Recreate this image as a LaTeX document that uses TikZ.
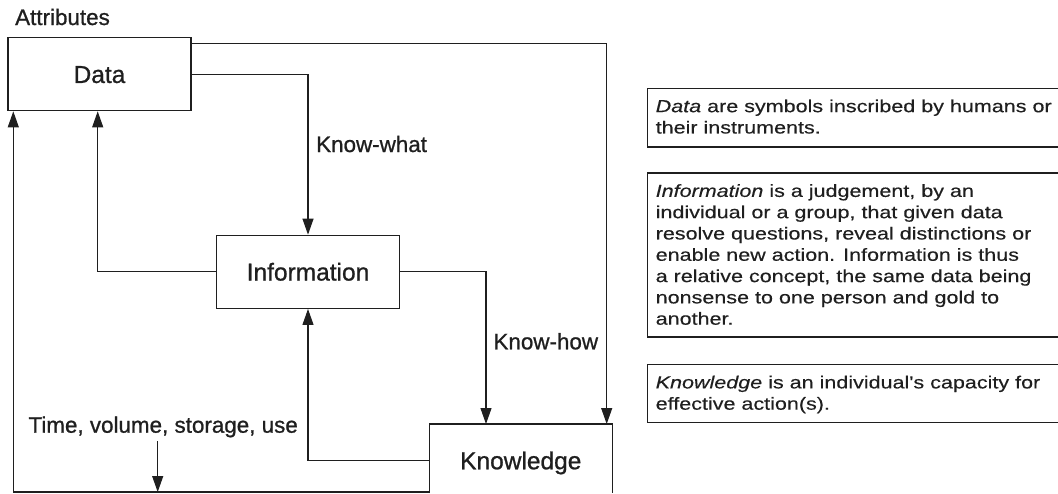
\documentclass[tikz,border=0pt]{standalone}
\usepackage{fontspec}
\setmainfont{Liberation Sans}
\newfontfamily\labelfont{Liberation Sans}[FakeBold=0.9]
\newfontfamily\bodyfont{Liberation Sans}[FakeStretch=1.23, FakeBold=0.35]
\usetikzlibrary{arrows.meta}
\definecolor{ink}{gray}{0.12}
\begin{document}
\begin{tikzpicture}[x=1pt,y=-1pt,
  blockbox/.style={draw=ink, line width=1.3pt, minimum width=183pt, minimum height=73pt,
    inner sep=0pt, text=ink, font=\labelfont\fontsize{24.5}{28}\selectfont, text height=17.5pt, text depth=0pt},
  labeltext/.style={font=\labelfont\fontsize{22.4}{26}\selectfont, text=ink, inner sep=0pt, anchor=base west},
  conn/.style={draw=ink, line width=1.1pt, -{Triangle[length=16pt,width=11pt]}},
  framed/.style={draw=ink, line width=1.2pt},
  desc/.style={font=\bodyfont\fontsize{17.5}{21.3}\selectfont, align=left, inner sep=0pt, text=ink, anchor=north west}
]
\useasboundingbox (0,0) rectangle (1058,493);

% main blocks
\node[blockbox] (data) at (99.5,74.2) {Data};
\node[blockbox] (info) at (308,271.8) {Information};
\node[blockbox, draw=none, outer sep=0pt] (know) at (520.8,460.5) {Knowledge};
\draw[framed, line width=1.3pt] ([yshift=4pt]know.south west) -- (know.north west) -- (know.north east) -- ([yshift=4pt]know.south east);

% labels
\node[labeltext] (attr) at (15,25) {Attributes};
\node[labeltext] (kwhat) at (316,152) {Know-what};
\node[labeltext] (khow) at (493.3,349.3) {Know-how};
\node[labeltext] (tvsu) at (28.3,432.7) {Time, volume, storage, use};

% connectors
\draw[conn] ([yshift=-6.3pt]data.north east) -| ([xshift=-5.6pt]know.north east);
\draw[conn] (data.east) -| (info.north);
\draw[conn] (info.west) -| ([xshift=-1.8pt]data.south);
\draw[conn] (info.east) -| ([xshift=-34.8pt]know.north);
\draw[conn] (know.west) -| (info.south);
\coordinate (bl) at ([yshift=5pt]know.south west);
\draw[conn] (bl) -| ([xshift=-86.2pt]data.south);
\coordinate (tv) at (157.7,441);
\draw[conn] (tv) -- (tv |- bl);

% description boxes
\draw[framed] (1058,88.3) -| (647.5,147) -- (1058,147);
\node[desc] (ddesc) at (655.5,99.3) {\textit{Data} are symbols inscribed by humans or\\their instruments.};

\draw[framed] (1058,173) -| (647.5,337) -- (1058,337);
\node[desc] (idesc) at (655.5,184) {\textit{Information} is a judgement, by an\\individual or a group, that given data\\resolve questions, reveal distinctions or\\enable new action. Information is thus\\a relative concept, the same data being\\nonsense to one person and gold to\\another.};

\draw[framed] (1058,364.5) -| (647.5,422.7) -- (1058,422.7);
\node[desc] (kdesc) at (655.5,375.5) {\textit{Knowledge} is an individual's capacity for\\effective action(s).};
\end{tikzpicture}
\end{document}
